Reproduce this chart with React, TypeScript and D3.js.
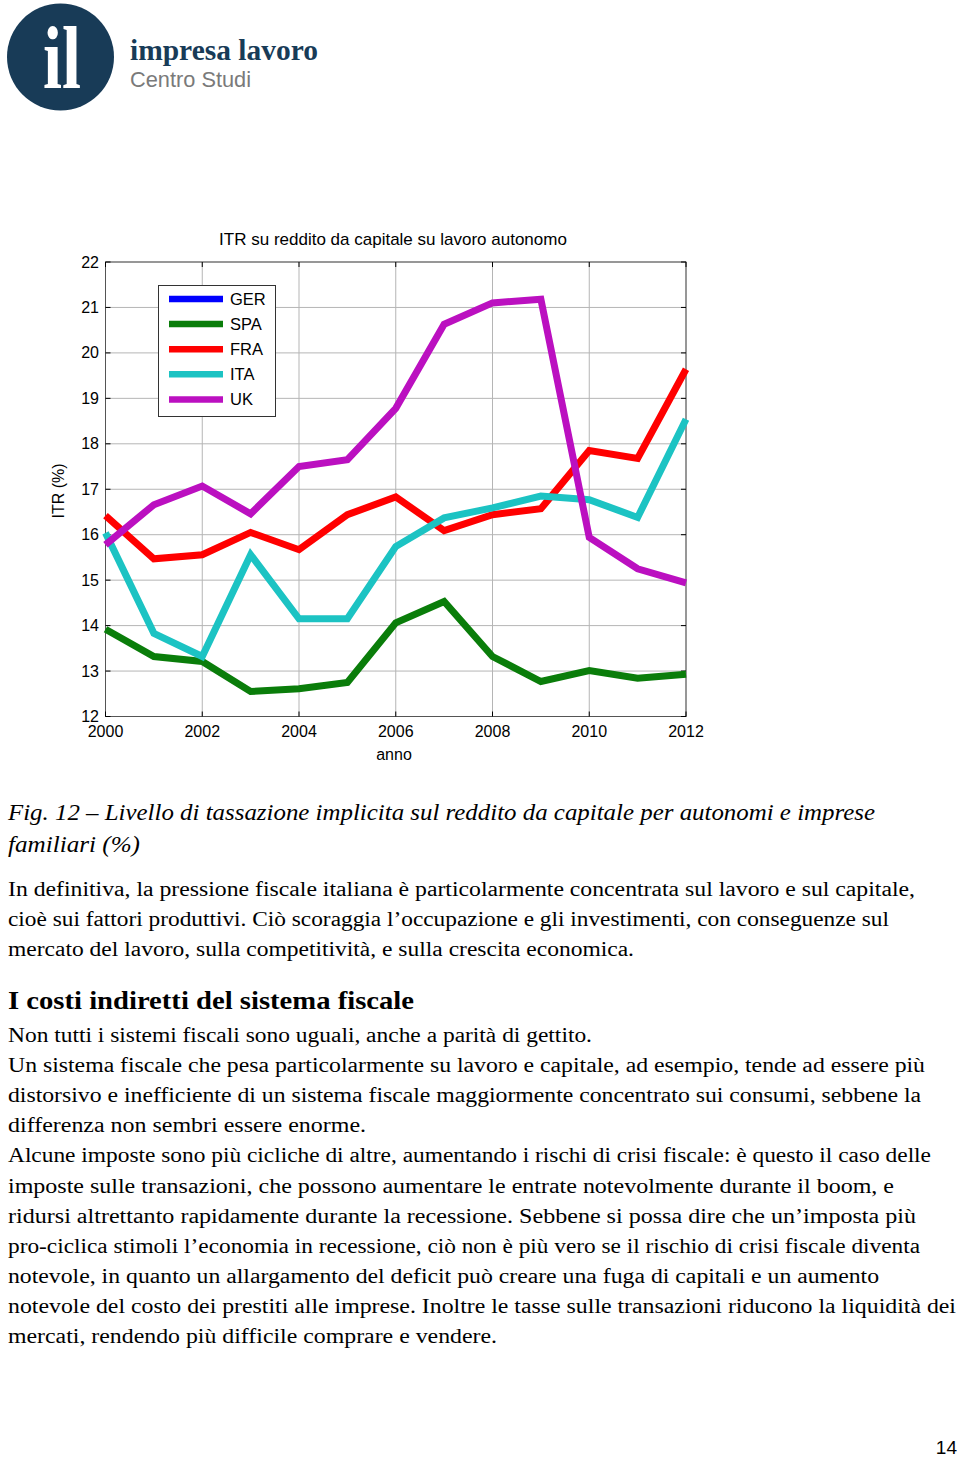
import React from "react";
import * as d3 from "d3";

const years = [2000, 2001, 2002, 2003, 2004, 2005, 2006, 2007, 2008, 2009, 2010, 2011, 2012];
const spaValues = [13.92, 13.32, 13.21, 12.55, 12.61, 12.75, 14.06, 14.53, 13.32, 12.77, 13.01, 12.84, 12.93];
const fraValues = [16.42, 15.47, 15.56, 16.05, 15.67, 16.44, 16.83, 16.09, 16.44, 16.57, 17.85, 17.68, 19.64];
const itaValues = [16.04, 13.83, 13.32, 15.56, 14.15, 14.15, 15.74, 16.37, 16.59, 16.85, 16.77, 16.38, 18.54];
const ukValues = [15.78, 16.66, 17.07, 16.46, 17.5, 17.65, 18.78, 20.63, 21.1, 21.18, 15.94, 15.25, 14.94];
const gerValues: number[] = [];

const seriesNames = ["GER", "SPA", "FRA", "ITA", "UK"];
const seriesColors = ["#0000ff", "#0a7d0a", "#ff0000", "#1cc3c3", "#bb10c0"];
const seriesData = [gerValues, spaValues, fraValues, itaValues, ukValues];

const xTicks = [2000, 2002, 2004, 2006, 2008, 2010, 2012];
const yTicks = [12, 13, 14, 15, 16, 17, 18, 19, 20, 21, 22];

const chartTitle = "ITR su reddito da capitale su lavoro autonomo";
const xLabel = "anno";
const yLabel = "ITR (%)";

const captionLines = [
  { t: "Fig. 12 – Livello di tassazione implicita sul reddito da capitale per autonomi e imprese", w: 867 },
  { t: "familiari (%)", w: 132 },
];
const para1 = [
  { t: "In definitiva, la pressione fiscale italiana è particolarmente concentrata sul lavoro e sul capitale,", w: 907 },
  { t: "cioè sui fattori produttivi. Ciò scoraggia l’occupazione e gli investimenti, con conseguenze sul", w: 881 },
  { t: "mercato del lavoro, sulla competitività, e sulla crescita economica.", w: 626 },
];
const heading = { t: "I costi indiretti del sistema fiscale", w: 406 };
const para2 = [
  { t: "Non tutti i sistemi fiscali sono uguali, anche a parità di gettito.", w: 584 },
  { t: "Un sistema fiscale che pesa particolarmente su lavoro e capitale, ad esempio, tende ad essere più", w: 917 },
  { t: "distorsivo e inefficiente di un sistema fiscale maggiormente concentrato sui consumi, sebbene la", w: 913 },
  { t: "differenza non sembri essere enorme.", w: 358 },
  { t: "Alcune imposte sono più cicliche di altre, aumentando i rischi di crisi fiscale: è questo il caso delle", w: 923 },
  { t: "imposte sulle transazioni, che possono aumentare le entrate notevolmente durante il boom, e", w: 886 },
  { t: "ridursi altrettanto rapidamente durante la recessione. Sebbene si possa dire che un’imposta più", w: 908 },
  { t: "pro-ciclica stimoli l’economia in recessione, ciò non è più vero se il rischio di crisi fiscale diventa", w: 912 },
  { t: "notevole, in quanto un allargamento del deficit può creare una fuga di capitali e un aumento", w: 871 },
  { t: "notevole del costo dei prestiti alle imprese. Inoltre le tasse sulle transazioni riducono la liquidità dei", w: 948 },
  { t: "mercati, rendendo più difficile comprare e vendere.", w: 489 },
];

const W = 960;
const H = 1459;
const plot = { left: 105.5, right: 686, top: 262, bottom: 716.5 };

export default function App() {
  const x = d3.scaleLinear().domain([2000, 2012]).range([plot.left, plot.right]);
  const y = d3.scaleLinear().domain([12, 22]).range([plot.bottom, plot.top]);
  const line = d3
    .line<number>()
    .x((_, i) => x(years[i]))
    .y((d) => y(d));

  const sans = "'Liberation Sans', Arial, Helvetica, sans-serif";
  const serif = "'Liberation Serif', 'DejaVu Serif', serif";
  const tickLen = 5;

  const legend = { x: 158.5, y: 285.5, w: 117, h: 131 };
  const legendRow0 = 299;
  const legendStep = 25.1;

  return (
    <svg width={W} height={H} style={{ display: "block", position: "absolute", left: 0, top: 0, background: "#fff" }}>
      <rect x={0} y={0} width={W} height={H} fill="#fff" />
      {/* logo */}
      <circle cx={60.5} cy={57} r={53.5} fill="#183b57" />
      <text x={43} y={88} fontFamily={serif} fontWeight="bold" fontSize={88} fill="#fff" textLength={38} lengthAdjust="spacingAndGlyphs">
        il
      </text>
      <text x={130} y={60} fontFamily={serif} fontWeight="bold" fontSize={29} fill="#183b57" textLength={188} lengthAdjust="spacingAndGlyphs">
        impresa lavoro
      </text>
      <text x={130} y={87} fontFamily={sans} fontSize={22} fill="#7a7a7a" textLength={121} lengthAdjust="spacingAndGlyphs">
        Centro Studi
      </text>

      {/* grid */}
      {xTicks.map((t) => (
        <line key={"gx" + t} x1={x(t)} x2={x(t)} y1={plot.top} y2={plot.bottom} stroke="#b5b5b5" strokeWidth={1} />
      ))}
      {yTicks.map((t) => (
        <line key={"gy" + t} x1={plot.left} x2={plot.right} y1={y(t)} y2={y(t)} stroke="#b5b5b5" strokeWidth={1} />
      ))}
      {/* box */}
      <rect x={plot.left} y={plot.top} width={plot.right - plot.left} height={plot.bottom - plot.top} fill="none" stroke="#555" strokeWidth={1} />
      {/* ticks */}
      {xTicks.map((t) => (
        <g key={"tx" + t}>
          <line x1={x(t)} x2={x(t)} y1={plot.bottom} y2={plot.bottom - tickLen} stroke="#000" strokeWidth={1} />
          <line x1={x(t)} x2={x(t)} y1={plot.top} y2={plot.top + tickLen} stroke="#000" strokeWidth={1} />
          <text x={x(t)} y={737} textAnchor="middle" fontFamily={sans} fontSize={16} fill="#000">
            {t}
          </text>
        </g>
      ))}
      {yTicks.map((t) => (
        <g key={"ty" + t}>
          <line x1={plot.left} x2={plot.left + tickLen} y1={y(t)} y2={y(t)} stroke="#000" strokeWidth={1} />
          <line x1={plot.right} x2={plot.right - tickLen} y1={y(t)} y2={y(t)} stroke="#000" strokeWidth={1} />
          <text x={99} y={y(t) + 5.5} textAnchor="end" fontFamily={sans} fontSize={16} fill="#000">
            {t}
          </text>
        </g>
      ))}

      {/* series */}
      {seriesData.map((vals, i) =>
        vals.length ? (
          <path key={seriesNames[i]} d={line(vals) || ""} fill="none" stroke={seriesColors[i]} strokeWidth={7} strokeLinejoin="miter" strokeLinecap="butt" />
        ) : null
      )}

      {/* legend */}
      <rect x={legend.x} y={legend.y} width={legend.w} height={legend.h} fill="#fff" stroke="#333" strokeWidth={1} />
      {seriesNames.map((n, i) => (
        <g key={"lg" + n}>
          <line x1={169} x2={223} y1={legendRow0 + i * legendStep} y2={legendRow0 + i * legendStep} stroke={seriesColors[i]} strokeWidth={6.5} />
          <text x={230} y={legendRow0 + i * legendStep + 5.5} fontFamily={sans} fontSize={16.5} fill="#000">
            {n}
          </text>
        </g>
      ))}

      {/* titles */}
      <text x={393} y={245} textAnchor="middle" fontFamily={sans} fontSize={17} fill="#000">
        {chartTitle}
      </text>
      <text x={394} y={760} textAnchor="middle" fontFamily={sans} fontSize={16} fill="#000">
        {xLabel}
      </text>
      <text transform="translate(64,491) rotate(-90)" textAnchor="middle" fontFamily={sans} fontSize={16} fill="#000">
        {yLabel}
      </text>

      {/* caption */}
      {captionLines.map((l, i) => (
        <text key={"cap" + i} x={8} y={820 + i * 32} fontFamily={serif} fontStyle="italic" fontSize={23} fill="#000" textLength={l.w} lengthAdjust="spacingAndGlyphs">
          {l.t}
        </text>
      ))}
      {para1.map((l, i) => (
        <text key={"p1" + i} x={8} y={896 + i * 30} fontFamily={serif} fontSize={20.5} fill="#000" textLength={l.w} lengthAdjust="spacingAndGlyphs">
          {l.t}
        </text>
      ))}
      <text x={8} y={1009} fontFamily={serif} fontWeight="bold" fontSize={25} fill="#000" textLength={heading.w} lengthAdjust="spacingAndGlyphs">
        {heading.t}
      </text>
      {para2.map((l, i) => (
        <text key={"p2" + i} x={8} y={1042 + i * 30.1} fontFamily={serif} fontSize={20.5} fill="#000" textLength={l.w} lengthAdjust="spacingAndGlyphs">
          {l.t}
        </text>
      ))}
      <text x={957} y={1454} textAnchor="end" fontFamily={sans} fontSize={19} fill="#000">
        14
      </text>
    </svg>
  );
}
